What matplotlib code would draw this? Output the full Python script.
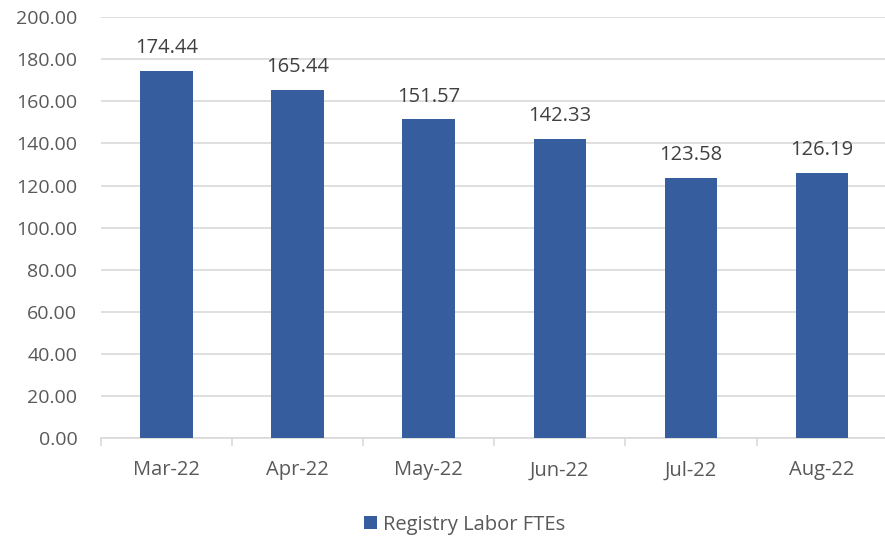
import matplotlib.pyplot as plt
import numpy as np

plt.rcParams['font.family'] = ['Open Sans', 'DejaVu Sans']

months = ['Mar-22', 'Apr-22', 'May-22', 'Jun-22', 'Jul-22', 'Aug-22']
ftes = [174.44, 165.44, 151.57, 142.33, 123.58, 126.19]
series_name = 'Registry Labor FTEs'

bar_color = '#365E9F'
text_color = '#595959'
grid_color = '#D9D9D9'

fig = plt.figure(figsize=(8.85, 5.37), dpi=100)
ax = fig.add_axes([0.114, 0.184, 0.889, 0.784])

x = np.arange(len(months))
bars = ax.bar(x, ftes, width=0.4, color=bar_color, label=series_name, zorder=3)

# value labels above each bar
for xi, v in zip(x, ftes):
    ax.text(xi, v + 6, f'{v:.2f}', ha='center', va='bottom',
            fontsize=14.5, color='#404040')

ax.set_xlim(-0.5, len(months) - 0.5)
ax.set_ylim(0, 200)
ax.set_yticks(np.arange(0, 201, 20))
ax.set_yticklabels([f'{t:.2f}' for t in np.arange(0, 201, 20)])
ax.set_xticks(x)
ax.set_xticklabels(months)
ax.set_xticks(np.arange(-0.5, len(months)), minor=True)

ax.grid(axis='y', color=grid_color, linewidth=1.2, zorder=0)
for s in ['top', 'right', 'left']:
    ax.spines[s].set_visible(False)
ax.spines['bottom'].set_color(grid_color)
ax.spines['bottom'].set_linewidth(1.2)

ax.tick_params(axis='y', length=0, pad=17, labelsize=14, labelcolor=text_color)
ax.tick_params(axis='x', which='major', length=0, pad=16, labelsize=14.5, labelcolor=text_color)
ax.tick_params(axis='x', which='minor', length=6, width=1.2, color=grid_color)

# legend sits centred on the whole chart, a little left of the plot centre
fig.legend(loc='upper center', bbox_to_anchor=(0.525, 0.075), frameon=False,
           fontsize=14.5, labelcolor=text_color, handlelength=0.6, handleheight=0.6,
           handletextpad=0.3)

fig.savefig('out.png', dpi=100)
